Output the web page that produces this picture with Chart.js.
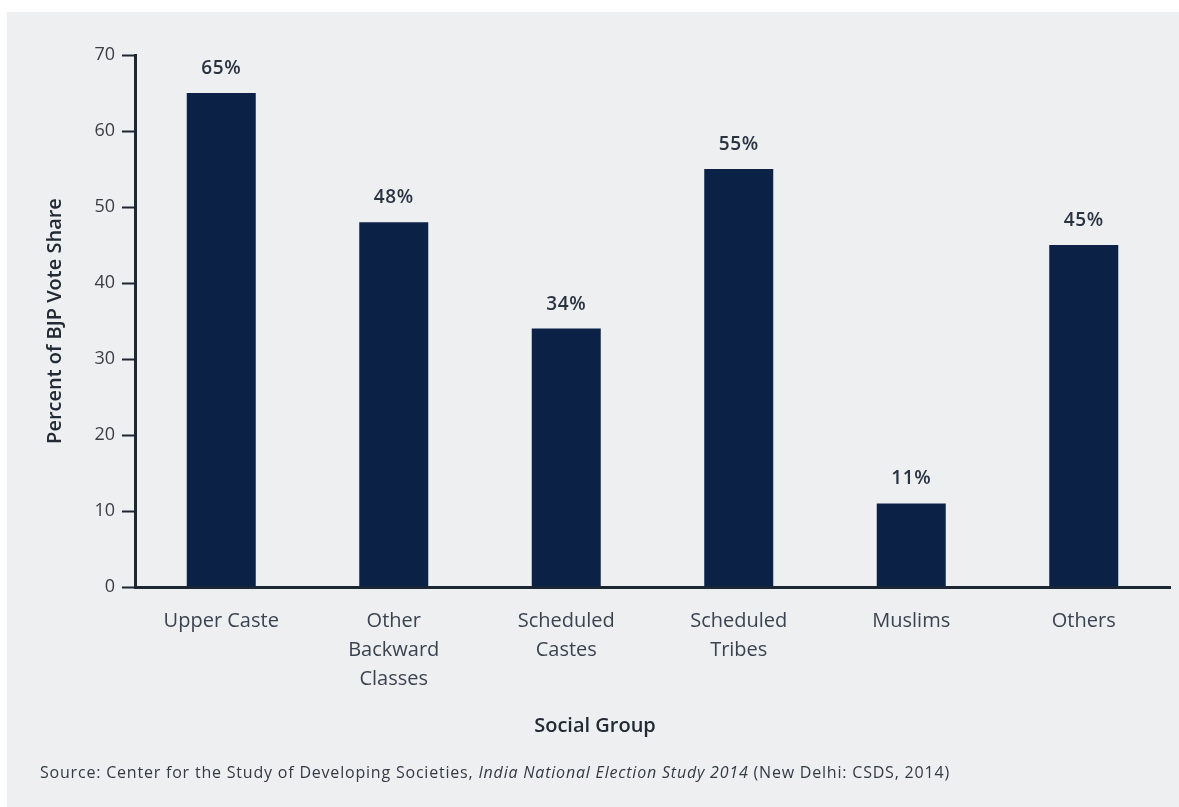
<!DOCTYPE html>
<html lang="en">
<head>
    <meta charset="UTF-8">
    <title>BJP Vote Share by Social Group</title>
    <script src="https://cdn.jsdelivr.net/npm/chart.js"></script>
    <style>
        html, body {
            margin: 0;
            padding: 0;
            background: #ffffff;
        }
        .chart-container {
            width: 1179px;
            height: 807px;
        }
    </style>
</head>
<body>
    <div class="chart-container">
        <canvas id="voteShareChart"></canvas>
    </div>

    <script>
        // BJP vote share (2014) by social group
        const groups = [
            'Upper Caste',
            ['Other', 'Backward', 'Classes'],
            ['Scheduled', 'Castes'],
            ['Scheduled', 'Tribes'],
            'Muslims',
            'Others'
        ];
        const voteShare = [65, 48, 34, 55, 11, 45];
        const yTicks = [0, 10, 20, 30, 40, 50, 60, 70];

        const FONT = '"Open Sans", "Noto Sans", sans-serif';
        const NAVY = '#0b2246';
        const AXIS = '#1d2733';

        // Grey panel behind the chart
        const panelBackground = {
            id: 'panelBackground',
            beforeDraw(chart) {
                const ctx = chart.ctx;
                ctx.save();
                ctx.fillStyle = '#eeeff1';
                ctx.fillRect(7, 12, chart.width - 7, chart.height - 12);
                ctx.restore();
            }
        };

        // Percentage labels above each bar
        const barLabels = {
            id: 'barLabels',
            afterDatasetsDraw(chart) {
                const ctx = chart.ctx;
                const meta = chart.getDatasetMeta(0);
                ctx.save();
                ctx.font = '600 19px ' + FONT;
                ctx.letterSpacing = '0.6px';
                ctx.fillStyle = '#2a3341';
                ctx.textAlign = 'center';
                ctx.textBaseline = 'bottom';
                meta.data.forEach((bar, i) => {
                    ctx.fillText(voteShare[i] + '%', bar.x, bar.y - 15);
                });
                ctx.restore();
            }
        };

        // Axis title under the categories and the source note
        const footerText = {
            id: 'footerText',
            afterDraw(chart) {
                const ctx = chart.ctx;
                ctx.save();
                ctx.fillStyle = '#222a35';
                ctx.font = '600 20px ' + FONT;
                ctx.textAlign = 'center';
                ctx.textBaseline = 'middle';
                ctx.fillText('Social Group', 595, 726);

                const parts = [
                    { text: 'Source: Center for the Study of Developing Societies, ', font: '16px ' + FONT },
                    { text: 'India National Election Study 2014', font: 'italic 16px ' + FONT },
                    { text: ' (New Delhi: CSDS, 2014)', font: '16px ' + FONT }
                ];
                let x = 40;
                ctx.textAlign = 'left';
                ctx.letterSpacing = '0.8px';
                ctx.fillStyle = '#333a44';
                parts.forEach(p => {
                    ctx.font = p.font;
                    ctx.fillText(p.text, x, 773);
                    x += ctx.measureText(p.text).width;
                });
                ctx.restore();
            }
        };

        const ctx = document.getElementById('voteShareChart').getContext('2d');
        new Chart(ctx, {
            type: 'bar',
            data: {
                labels: groups,
                datasets: [{
                    label: 'Percent of BJP Vote Share',
                    data: voteShare,
                    backgroundColor: NAVY,
                    barPercentage: 0.4,
                    categoryPercentage: 1.0
                }]
            },
            options: {
                responsive: true,
                maintainAspectRatio: false,
                animation: false,
                layout: {
                    padding: { top: 55, right: 9, bottom: 0, left: 0 }
                },
                plugins: {
                    legend: { display: false },
                    tooltip: { enabled: false }
                },
                scales: {
                    x: {
                        grid: { display: false, drawTicks: false },
                        border: { display: true, color: AXIS, width: 3 },
                        ticks: {
                            color: '#3b4350',
                            font: { family: FONT, size: 20, lineHeight: 1.45 },
                            padding: 20,
                            maxRotation: 0,
                            autoSkip: false
                        },
                        afterFit(scale) { scale.height = 220; }
                    },
                    y: {
                        min: 0,
                        max: 70,
                        afterBuildTicks(scale) {
                            scale.ticks = yTicks.map(v => ({ value: v }));
                        },
                        grid: {
                            display: true,
                            drawOnChartArea: false,
                            drawTicks: true,
                            tickLength: 13,
                            tickWidth: 2,
                            tickColor: AXIS
                        },
                        border: { display: true, color: AXIS, width: 3 },
                        ticks: {
                            color: '#3a3d42',
                            font: { family: FONT, size: 18 },
                            padding: 7
                        },
                        title: {
                            display: true,
                            text: 'Percent of BJP Vote Share',
                            color: '#222a35',
                            font: { family: FONT, size: 20, weight: '600' },
                            padding: { top: 43, bottom: 0 }
                        },
                        afterFit(scale) { scale.width = 135; }
                    }
                }
            },
            plugins: [panelBackground, barLabels, footerText]
        });
    </script>
</body>
</html>
